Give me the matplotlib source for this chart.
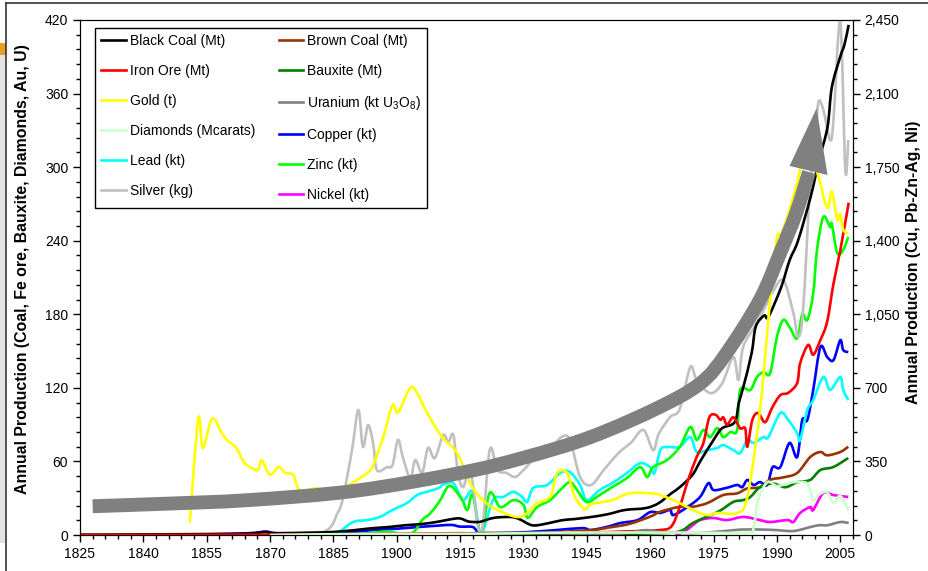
#!/usr/bin/env python3
from __future__ import annotations

from pathlib import Path

import matplotlib

matplotlib.use("Agg")
import matplotlib.pyplot as plt
from matplotlib.lines import Line2D
from matplotlib.patches import PathPatch, Polygon, Rectangle
from matplotlib.path import Path as MplPath
from matplotlib.ticker import FuncFormatter, MultipleLocator

OUTPUT = Path("out.png")

# --- left axis series (Coal, Fe ore, Bauxite, Diamonds, Au, U) ---
black_coal_years = [1825, 1840, 1855, 1865, 1869, 1871, 1880, 1885, 1890, 1894, 1898, 1902,
                    1906, 1910, 1913, 1915, 1917, 1919, 1920, 1923, 1927, 1929, 1932, 1935,
                    1939, 1942, 1946, 1950, 1954, 1959, 1962, 1965, 1967, 1970, 1972, 1975,
                    1977, 1980, 1981, 1982, 1984, 1985, 1987, 1988, 1991, 1993, 1995, 1998,
                    2000, 2002, 2003, 2005, 2006, 2007]
black_coal = [0.3, 0.5, 0.8, 1.2, 2.5, 1.5, 2, 2.5, 4, 5.5, 6.5, 8,
              9, 11, 13, 13.5, 11, 10.6, 11, 14, 14.7, 13, 8, 9,
              12, 13, 14.7, 17, 20.4, 22, 26, 34, 39, 49, 61, 77.5,
              87, 92, 108, 120, 148, 170, 179, 178, 202, 224, 240, 276,
              306, 333, 365, 390, 400, 416]

brown_coal_years = [1870, 1900, 1920, 1935, 1946, 1950, 1955, 1960, 1962.4, 1967, 1970, 1973.5,
                    1977.3, 1980.6, 1983, 1986, 1988.4, 1991.5, 1994.8, 1997.9, 2000.3, 2001.9,
                    2005, 2006.9]
brown_coal = [0, 1, 1.5, 2, 4, 6, 9, 15, 19, 23, 23, 26,
              32.6, 34, 38, 39, 45, 47, 50.6, 63.6, 67.7, 65,
              67.7, 72]

iron_ore_years = [1825, 1870, 1900, 1915, 1920, 1940, 1955, 1962, 1965, 1967, 1969, 1971,
                  1972.6, 1974, 1975.5, 1976.6, 1977.3, 1978.2, 1979.7, 1981.3, 1982.5, 1983,
                  1984.2, 1985.6, 1987.2, 1988.9, 1990.8, 1992.7, 1994.8, 1995.5, 1997.4, 1998.6,
                  2000.3, 2001.9, 2003.4, 2005, 2007]
iron_ore = [0, 0.3, 1, 1.5, 0.5, 1.5, 3, 4, 7, 23, 45, 63.6,
            75, 96, 98, 94, 96, 90, 96, 87, 87, 72,
            94, 99.5, 92, 104, 114, 116, 124, 140, 155, 147,
            159, 174, 205, 232, 271]

bauxite_years = [1890, 1920, 1940, 1950, 1962, 1967, 1970.2, 1973.5, 1976.6, 1979.7, 1982,
                 1983.7, 1986, 1989, 1992, 1994.8, 1997.9, 2000.3, 2003.4, 2006.9]
bauxite = [0, 0.5, 1.5, 1, 1.5, 3, 10, 15, 20, 27, 28.5,
           31, 39, 42, 39, 43, 45, 53, 55.5, 62.8]

gold_years = [1851, 1853, 1854.1, 1856.3, 1858.6, 1859.8, 1862, 1864, 1867, 1868, 1870, 1872,
              1873.6, 1875.5, 1877, 1881, 1884.2, 1887.3, 1889.7, 1893, 1894.4, 1896.8, 1899,
              1900.3, 1903.2, 1904.8, 1907.2, 1910.7, 1914.3, 1917.4, 1920.4, 1923.8, 1928.5,
              1930.9, 1933.2, 1936.3, 1938, 1940.3, 1942.2, 1944.5, 1946, 1951, 1955, 1960,
              1962.4, 1966.4, 1970.2, 1973.5, 1975.9, 1980.6, 1983, 1986, 1988.4, 1990, 1991,
              1993, 1995, 1996.2, 1998, 1999.6, 2001.9, 2003, 2004.3, 2005, 2005.7, 2006.9]
gold = [9.8, 95, 71, 95, 83, 77.5, 71, 58.7, 53, 61, 49, 55.5,
        50.6, 49, 36.7, 38, 35, 38, 43, 50.6, 57, 80, 106,
        100, 120, 115.8, 99.5, 80, 67, 42, 28.5, 20.4, 14.7,
        18, 26, 31, 50.6, 50.6, 31, 21, 25, 28.5, 34, 34,
        32.6, 27, 20.4, 16.3, 18, 18, 31, 102, 191.6, 242, 245,
        265, 290, 308, 305, 295, 267, 280, 257, 262, 249, 246]

uranium_years = [1945, 1950, 1955, 1959, 1962, 1966, 1970, 1975, 1980, 1982, 1986, 1990,
                 1994, 1997.9, 2000, 2002, 2005, 2007]
uranium = [0, 0.5, 2, 4, 2.5, 2, 1.5, 2.5, 4, 4.5, 4.5, 4,
           3.3, 6.5, 8, 8, 10.6, 9.8]

diamonds_years = [1870, 1880, 1900, 1920, 1940, 1960, 1970, 1983, 1984.5, 1985.5, 1987.7,
                  1990, 1992.5, 1994, 1997.2, 1998.6, 2000, 2001.9, 2003.4, 2005, 2006.9]
diamonds = [0, 0.5, 1, 1, 2, 2, 2, 2, 6.5, 28, 43,
            40, 42, 43, 42, 28.5, 33, 35, 26, 32, 20]

# --- right axis series (Cu, Pb-Zn-Ag, Ni) ---
copper_years = [1841, 1850, 1860, 1866, 1869, 1872, 1880, 1885, 1890, 1895, 1900, 1905,
                1910, 1913, 1915, 1918, 1919.7, 1925, 1931, 1938, 1944, 1946, 1950, 1952.9,
                1957, 1960, 1962.4, 1964.7, 1965.5, 1968.8, 1971.8, 1973.8, 1975, 1978,
                1980.6, 1981.8, 1983, 1984.5, 1986, 1987.7, 1989, 1990.8, 1993, 1994.8, 1996,
                1997.2, 1998.6, 2000.3, 2001.9, 2003.4, 2005, 2005.7, 2006.9]
copper = [0, 2, 5, 10, 16, 8, 8, 10, 15, 25, 30, 38,
          45, 48, 40, 38, 12, 10, 14, 24, 33, 24, 40, 57,
          71, 109, 105, 119, 95, 133, 181, 247, 214, 224,
          238, 228, 262, 238, 252, 238, 323, 323, 438, 371, 547,
          547, 690, 894, 847, 832, 927, 880, 870]

lead_years = [1884, 1886, 1889.7, 1893, 1896, 1899, 1902.4, 1904.8, 1907, 1910, 1911, 1913.4,
              1915.7, 1918, 1919.9, 1922.8, 1925.2, 1927.6, 1929.7, 1930.9, 1932.3, 1935.6,
              1938.7, 1941, 1943.4, 1945, 1948, 1951, 1954.5, 1957.6, 1960, 1961, 1962.4,
              1964, 1967, 1969.5, 1971, 1973.5, 1975.9, 1977.3, 1979.7, 1981.3, 1983, 1984.5,
              1986.8, 1988, 1990.8, 1992.7, 1994.8, 1995.5, 1997.2, 1998.6, 2001, 2002.6,
              2005, 2005.7, 2006.9]
lead = [0, 10, 62, 71, 86, 119, 152, 190, 205, 224, 240, 247,
        166, 205, 10, 166, 181, 205, 181, 157, 224, 238,
        295, 300, 238, 166, 214, 247, 295, 342, 323, 295, 404,
        419, 419, 466, 395, 404, 414, 428, 404, 390, 452, 438,
        466, 466, 580, 547, 485, 452, 595, 642, 752, 690,
        752, 690, 642]

zinc_years = [1889, 1896, 1899, 1901.5, 1904, 1906, 1908, 1910.3, 1912, 1913.4, 1915.5, 1916.7,
              1918, 1919.9, 1922, 1924.5, 1927.6, 1930, 1931, 1933.2, 1936.3, 1938.7, 1941,
              1942.7, 1945, 1948, 1951, 1954.5, 1957.6, 1959.3, 1960.7, 1964, 1967, 1969.5,
              1971, 1972.6, 1974.2, 1975.9, 1977.3, 1979, 1980.6, 1981.3, 1983.7, 1985.3,
              1986.8, 1988.4, 1990, 1991.5, 1993, 1994.8, 1996, 1997.2, 1998.6, 1999.5, 2001,
              2002.6, 2003, 2004.3, 2005.7, 2006.9]
zinc = [0, 14, 14, 0, 14, 71, 105, 166, 228, 224, 166, 119,
        190, 5, 200, 133, 166, 143, 81, 133, 166, 214, 252,
        214, 157, 190, 228, 271, 323, 276, 323, 357, 419, 514,
        452, 500, 466, 509, 466, 490, 500, 690, 690, 752,
        775, 770, 942, 1023, 989, 935, 1050, 1023, 1150, 1356, 1513,
        1465, 1480, 1341, 1356, 1418]

silver_years = [1870, 1882.5, 1886, 1887.3, 1889.4, 1890.9, 1892, 1893.2, 1894.4, 1895.3, 1897.7,
                1899, 1900.3, 1901.5, 1903.2, 1904.4, 1906, 1907.4, 1909, 1911, 1912.2, 1913.4,
                1914.5, 1915.7, 1917.5, 1919.9, 1922, 1923.8, 1926, 1928, 1930, 1932.3, 1936,
                1939, 1941, 1943.4, 1946, 1949, 1952.5, 1955.5, 1958.4, 1960.7, 1962, 1964.7,
                1967, 1969.5, 1971, 1974.2, 1977, 1979.7, 1980.9, 1982, 1985, 1987.7, 1988.9,
                1991.5, 1993.9, 1995, 1996.2, 1997.9, 1999, 1999.8, 2001, 2002.6, 2003.4, 2005,
                2006.2, 2006.9]
silver = [0, 14, 105, 181, 404, 595, 419, 523, 438, 309, 323,
          333, 452, 366, 271, 357, 295, 414, 366, 476, 442, 476,
          295, 228, 300, 0, 404, 309, 295, 276, 309, 357, 400,
          466, 452, 276, 238, 309, 390, 440, 500, 404, 480, 561,
          600, 799, 737, 675, 720, 847, 737, 894, 1000, 1104, 1151,
          1213, 1056, 942, 1070, 1674, 1831, 2055, 2022, 1879, 1974, 2440,
          1736, 1879]

nickel_years = [1966, 1968, 1970, 1971.8, 1974.9, 1978.2, 1982, 1986, 1988.4, 1992.5, 1993.9,
                1995.5, 1997.9, 1998.6, 2001, 2003.4, 2006.9]
nickel = [0, 15, 45, 71, 81, 71, 86, 71, 62, 71, 62,
          105, 133, 119, 200, 190, 181]

# growth arrow drawn over the series (left axis units)
arrow_years = [1828, 1845, 1865, 1890, 1915, 1930, 1946, 1962, 1972, 1978, 1986, 1991, 1994.5,
               1997.6]
arrow_values = [23.5, 25.5, 28.5, 36, 50.6, 63, 80, 104, 124, 148, 192, 232, 262, 296]
arrow_head_years = [1999.4, 1993.0, 2002.0]
arrow_head_values = [348, 301, 293.6]

LEFT_SERIES = [
    ("Black Coal (Mt)", black_coal_years, black_coal, "#000000"),
    ("Brown Coal (Mt)", brown_coal_years, brown_coal, "#993300"),
    ("Iron Ore (Mt)", iron_ore_years, iron_ore, "#FF0000"),
    ("Bauxite (Mt)", bauxite_years, bauxite, "#008000"),
    ("Gold (t)", gold_years, gold, "#FFFF00"),
    ("Uranium (kt U$_3$O$_8$)", uranium_years, uranium, "#808080"),
    ("Diamonds (Mcarats)", diamonds_years, diamonds, "#CCFFCC"),
]
RIGHT_SERIES = [
    ("Copper (kt)", copper_years, copper, "#0000FF"),
    ("Lead (kt)", lead_years, lead, "#00FFFF"),
    ("Zinc (kt)", zinc_years, zinc, "#00FF00"),
    ("Silver (kg)", silver_years, silver, "#C0C0C0"),
    ("Nickel (kt)", nickel_years, nickel, "#FF00FF"),
]
LEGEND_ORDER = [
    "Black Coal (Mt)", "Iron Ore (Mt)", "Gold (t)", "Diamonds (Mcarats)", "Lead (kt)",
    "Silver (kg)", "Brown Coal (Mt)", "Bauxite (Mt)", "Uranium (kt U$_3$O$_8$)",
    "Copper (kt)", "Zinc (kt)", "Nickel (kt)",
]
LINE_WIDTH = 1.9


def smooth_path(xs: list[float], ys: list[float]) -> MplPath:
    # Catmull-Rom style cubic curves through every point, like Excel's smoothed line
    pts = list(zip(xs, ys))
    n = len(pts)
    verts = [pts[0]]
    codes = [MplPath.MOVETO]
    for i in range(n - 1):
        p0 = pts[i - 1] if i > 0 else pts[i]
        p1 = pts[i]
        p2 = pts[i + 1]
        p3 = pts[i + 2] if i + 2 < n else pts[i + 1]
        c1 = (p1[0] + (p2[0] - p0[0]) / 6, p1[1] + (p2[1] - p0[1]) / 6)
        c2 = (p2[0] - (p3[0] - p1[0]) / 6, p2[1] - (p3[1] - p1[1]) / 6)
        verts += [c1, c2, p2]
        codes += [MplPath.CURVE4] * 3
    return MplPath(verts, codes)


def add_smooth_line(ax, xs, ys, color, lw, zorder=2):
    patch = PathPatch(smooth_path(xs, ys), facecolor="none", edgecolor=color, lw=lw,
                      capstyle="butt", joinstyle="round", zorder=zorder)
    ax.add_patch(patch)
    return patch


def style_axis(ax) -> None:
    ax.tick_params(which="major", direction="out", length=5, width=1, labelsize=10)
    ax.tick_params(which="minor", direction="out", length=3, width=1)


def main() -> None:
    plt.rcParams["font.family"] = ["Liberation Sans", "DejaVu Sans"]
    plt.rcParams["mathtext.fontset"] = "custom"
    plt.rcParams["mathtext.rm"] = "Liberation Sans"
    plt.rcParams["mathtext.default"] = "regular"

    fig = plt.figure(figsize=(9.29, 5.71), dpi=100)

    # slide decoration round the chart
    fig.patches.append(Rectangle((0, 0.049), 0.0055, 0.855, transform=fig.transFigure,
                                 facecolor="#E3E3E3", edgecolor="none"))
    fig.patches.append(Rectangle((0, 0.904), 0.0065, 0.02, transform=fig.transFigure,
                                 facecolor="#E8A020", edgecolor="none"))
    fig.lines.append(plt.Line2D([0.0065, 1], [0.995, 0.995], transform=fig.transFigure,
                                color="#333333", lw=1.2))
    fig.lines.append(plt.Line2D([0.0068, 0.0068], [0, 0.995], transform=fig.transFigure,
                                color="#333333", lw=1.2))

    ax = fig.add_axes((0.0861, 0.063, 0.832, 0.902))
    ax2 = ax.twinx()
    ax.set_zorder(ax2.get_zorder() + 1)
    ax.patch.set_visible(False)

    handles = {}
    for label, years, values, color in RIGHT_SERIES:
        add_smooth_line(ax2, years, values, color, LINE_WIDTH)
        handles[label] = Line2D([], [], color=color, lw=LINE_WIDTH)
    for label, years, values, color in LEFT_SERIES:
        add_smooth_line(ax, years, values, color, LINE_WIDTH)
        handles[label] = Line2D([], [], color=color, lw=LINE_WIDTH)

    add_smooth_line(ax, arrow_years, arrow_values, "#808080", 10, zorder=5)
    ax.add_patch(Polygon(list(zip(arrow_head_years, arrow_head_values)), closed=True,
                         facecolor="#808080", edgecolor="none", zorder=5))

    ax.set_xlim(1825, 2008)
    ax.set_ylim(0, 420)
    ax2.set_ylim(0, 2450)
    ax.xaxis.set_major_locator(MultipleLocator(15, offset=10))
    ax.xaxis.set_minor_locator(MultipleLocator(3, offset=1))
    ax.yaxis.set_major_locator(MultipleLocator(60))
    ax.yaxis.set_minor_locator(MultipleLocator(12))
    ax2.yaxis.set_major_locator(MultipleLocator(350))
    ax2.yaxis.set_minor_locator(MultipleLocator(70))
    ax2.yaxis.set_major_formatter(FuncFormatter(lambda v, _: f"{v:,.0f}"))
    style_axis(ax)
    style_axis(ax2)

    ax.set_ylabel("Annual Production (Coal, Fe ore, Bauxite, Diamonds, Au, U)",
                  fontsize=11.4, fontweight="bold")
    ax.yaxis.set_label_coords(-0.065, 0.5165)
    ax2.set_ylabel("Annual Production (Cu, Pb-Zn-Ag, Ni)", fontsize=11.4,
                   fontweight="bold")
    ax2.yaxis.set_label_coords(1.0686, 0.530)

    leg = ax.legend([handles[k] for k in LEGEND_ORDER], LEGEND_ORDER, ncol=2,
                    loc="upper left", bbox_to_anchor=(0.0194, 0.9845), fontsize=10,
                    frameon=True, fancybox=False, edgecolor="black", framealpha=1,
                    handlelength=1.75, handletextpad=0.3, labelspacing=1.15,
                    columnspacing=1.7, borderpad=0.45, borderaxespad=0)
    leg.get_frame().set_linewidth(1.0)
    leg.set_zorder(10)

    fig.savefig(OUTPUT, dpi=100)
    plt.close(fig)
    print(f"[INFO] Wrote {OUTPUT}")


if __name__ == "__main__":
    main()
